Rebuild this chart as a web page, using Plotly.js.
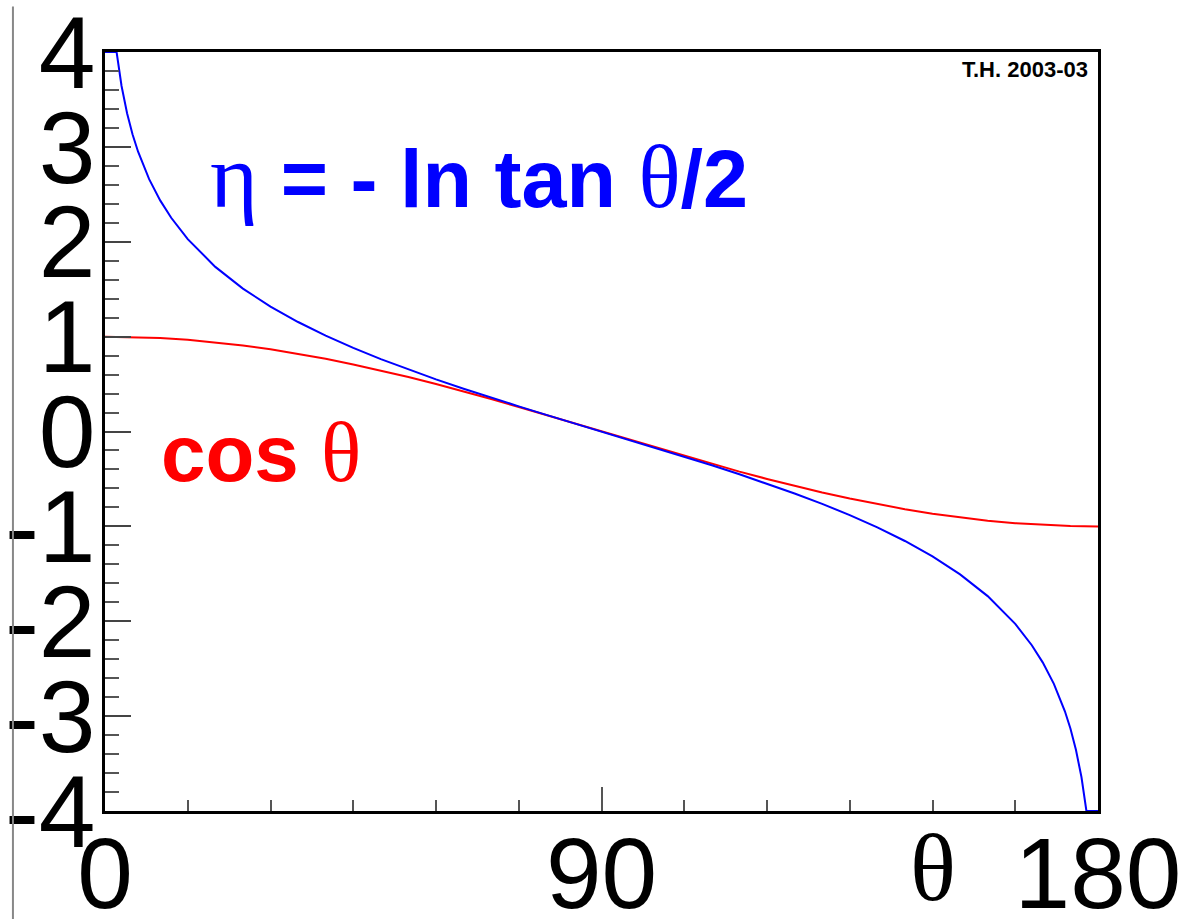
<!DOCTYPE html>
<html>
<head>
<meta charset="utf-8">
<script src="https://cdn.plot.ly/plotly-3.0.1.min.js"></script>
<style>html,body{margin:0;padding:0;background:#fff;}#plot{width:1182px;height:919px;}</style>
</head>
<body>
<div id="plot"></div>
<script>
// Polar angle theta (degrees) and pseudorapidity eta
const thetaEta = [0, 2.1, 3, 4, 5, 6, 8, 10, 12, 15, 20, 25, 30, 35, 40, 45, 50, 55, 60, 65, 70, 75, 80, 85, 90,
  95, 100, 105, 110, 115, 120, 125, 130, 135, 140, 145, 150, 155, 160, 165, 168, 170, 172, 174, 175, 176, 177, 177.9, 180];
const etaValues = [4.0, 4.0, 3.642, 3.355, 3.131, 2.949, 2.660, 2.436, 2.253, 2.028, 1.735, 1.506, 1.317, 1.154, 1.011, 0.881, 0.763, 0.653, 0.549, 0.451, 0.356, 0.265, 0.175, 0.087, 0,
  -0.087, -0.175, -0.265, -0.356, -0.451, -0.549, -0.653, -0.763, -0.881, -1.011, -1.154, -1.317, -1.506, -1.735, -2.028, -2.253, -2.436, -2.660, -2.949, -3.131, -3.355, -3.642, -4.0, -4.0];
// cos(theta)
const thetaCos = [0, 5, 10, 15, 20, 25, 30, 35, 40, 45, 50, 55, 60, 65, 70, 75, 80, 85, 90,
  95, 100, 105, 110, 115, 120, 125, 130, 135, 140, 145, 150, 155, 160, 165, 170, 175, 180];
const cosValues = [1, 0.996, 0.985, 0.966, 0.940, 0.906, 0.866, 0.819, 0.766, 0.707, 0.643, 0.574, 0.5, 0.423, 0.342, 0.259, 0.174, 0.087, 0,
  -0.087, -0.174, -0.259, -0.342, -0.423, -0.5, -0.574, -0.643, -0.707, -0.766, -0.819, -0.866, -0.906, -0.940, -0.966, -0.985, -0.996, -1];
const xTickVals = [0, 90, 180];
const xTickText = ['0', '90', '180'];
const yTickVals = [-4, -3, -2, -1, 0, 1, 2, 3, 4];
const yTickText = ['-4', '-3', '-2', '-1', '0', '1', '2', '3', '4'];

const serif = "'Liberation Serif', 'DejaVu Serif', serif";
const sans = "'Liberation Sans', Arial, sans-serif";

const traces = [
  {x: thetaCos, y: cosValues, mode: 'lines', line: {color: '#ff0000', width: 2}, hoverinfo: 'skip'},
  {x: thetaEta, y: etaValues, mode: 'lines', line: {color: '#0000ff', width: 2}, hoverinfo: 'skip'}
];

const layout = {
  width: 1182, height: 919,
  margin: {l: 105, r: 84, t: 52, b: 108},
  paper_bgcolor: '#ffffff', plot_bgcolor: '#ffffff',
  showlegend: false,
  font: {family: sans, color: '#000'},
  xaxis: {
    range: [0, 180], tickvals: xTickVals, ticktext: xTickText,
    ticks: 'inside', ticklen: 24, tickwidth: 2, tickcolor: '#555',
    minor: {dtick: 15, tick0: 0, ticks: 'inside', ticklen: 11, tickwidth: 2, tickcolor: '#555'},
    showline: true, linewidth: 3, linecolor: '#000', mirror: true,
    showgrid: false, zeroline: false,
    ticklabeloverflow: 'allow', ticklabelstandoff: -26,
    tickfont: {family: sans, size: 100, color: '#000'}
  },
  yaxis: {
    range: [-4, 4], tickvals: yTickVals, ticktext: yTickText,
    ticks: 'inside', ticklen: 26, tickwidth: 2, tickcolor: '#444',
    minor: {dtick: 0.2, tick0: 0, ticks: 'inside', ticklen: 14, tickwidth: 2, tickcolor: '#555'},
    showline: true, linewidth: 3, linecolor: '#000', mirror: true,
    showgrid: false, zeroline: false,
    ticklabeloverflow: 'allow', ticklabelstandoff: -14,
    tickfont: {family: sans, size: 102, color: '#000'}
  },
  shapes: [
    {type: 'line', xref: 'paper', yref: 'paper', x0: -0.0927, x1: -0.0927, y0: 1.06, y1: -0.15,
     line: {color: '#888', width: 2}}
  ],
  annotations: [
    {xref: 'paper', yref: 'paper', x: 0.104, y: 0.836, xanchor: 'left', yanchor: 'middle', showarrow: false,
     text: "<span style=\"font-family:" + serif + ";font-size:92px\">η</span><b> = - ln tan </b><span style=\"font-family:" + serif + ";font-size:88px\">θ</span><b>/2</b>",
     font: {family: sans, size: 81, color: '#0000ff'}},
    {xref: 'paper', yref: 'paper', x: 0.054, y: 0.472, xanchor: 'left', yanchor: 'middle', showarrow: false,
     text: "<b>cos </b><span style=\"font-family:" + serif + ";font-size:84px\">θ</span>",
     font: {family: sans, size: 80, color: '#ff0000'}},
    {xref: 'paper', yref: 'paper', x: 0.992, y: 0.996, xanchor: 'right', yanchor: 'top', showarrow: false,
     text: "<b>T.H. 2003-03</b>",
     font: {family: sans, size: 22, color: '#000'}},
    {xref: 'paper', yref: 'paper', x: 0.834, y: -0.075, xanchor: 'center', yanchor: 'middle', showarrow: false,
     text: "θ",
     font: {family: serif, size: 96, color: '#000'}}
  ]
};

Plotly.newPlot('plot', traces, layout, {displayModeBar: false, staticPlot: true});
</script>
</body>
</html>
